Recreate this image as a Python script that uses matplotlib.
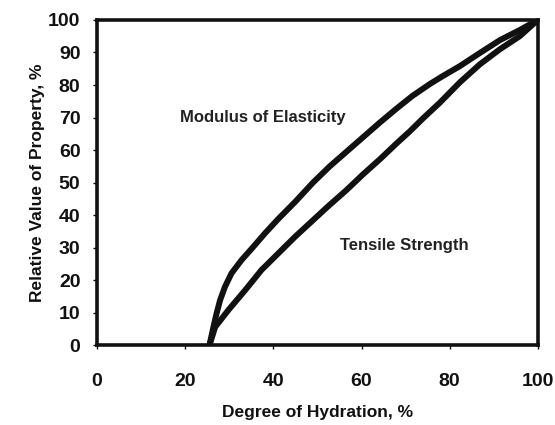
import matplotlib.pyplot as plt

# values
hydration_modulus = [25.5, 26.4, 27.1, 27.9, 29.0, 30.5, 32.8, 35.1, 38.1, 41.1, 44.9, 49.0, 52.8,
                     56.6, 60.4, 64.2, 68.0, 71.5, 75.5, 78.5, 82.3, 86.8, 91.4, 95.9, 100.0]
modulus = [0.0, 5.6, 9.7, 13.8, 17.9, 22.1, 26.2, 29.7, 34.4, 38.8, 44.0, 50.0, 55.0,
           59.5, 64.0, 68.5, 72.8, 76.6, 80.3, 82.8, 85.8, 89.8, 93.8, 96.9, 100.0]

hydration_tensile = [25.5, 26.8, 29.8, 33.6, 37.3, 41.1, 44.9, 48.5, 52.5, 56.6, 60.4,
                     64.2, 68.0, 71.0, 74.0, 77.8, 82.3, 86.8, 91.4, 95.9, 100.0]
tensile = [0.0, 5.6, 10.8, 16.9, 23.1, 28.2, 33.3, 37.8, 42.8, 47.7, 52.6,
           57.2, 62.1, 65.8, 69.8, 74.6, 80.8, 86.3, 91.0, 95.0, 100.0]

x_ticks = [0, 20, 40, 60, 80, 100]
y_ticks = list(range(0, 101, 10))

plt.rcParams["font.family"] = ["Liberation Sans", "DejaVu Sans"]
plt.rcParams["font.weight"] = "bold"

fig = plt.figure(figsize=(5.55, 4.25), dpi=100)
ax = fig.add_axes([0.175, 0.188, 0.794, 0.765])

line_style = dict(color="#111111", lw=4.3, solid_capstyle="round", solid_joinstyle="round")
ax.plot(hydration_modulus, modulus, **line_style)
ax.plot(hydration_tensile, tensile, **line_style)

ax.text(37.5, 70, "Modulus of Elasticity", ha="center", va="center", fontsize=12, fontweight="bold", color="#222222")
ax.text(69.8, 30.5, "Tensile Strength", ha="center", va="center", fontsize=12, fontweight="bold", color="#222222")

ax.set_xlim(0, 100)
ax.set_ylim(0, 100)
ax.set_xticks(x_ticks)
ax.set_yticks(y_ticks)
for s in ax.spines.values():
    s.set_linewidth(2.6)
    s.set_color("#111111")
ax.tick_params(axis="x", length=3, width=1, direction="out", pad=17, labelsize=14, colors="#111111")
ax.tick_params(axis="y", length=3, width=1, direction="out", pad=9, labelsize=14, colors="#111111")
for lbl in ax.get_xticklabels() + ax.get_yticklabels():
    lbl.set_fontweight("bold")

ax.set_xlabel("Degree of Hydration, %", fontsize=12.5, fontweight="bold", labelpad=11, color="#111111")
ax.set_ylabel("Relative Value of Property, %", fontsize=12.5, fontweight="bold", labelpad=2, color="#111111")

fig.savefig("out.png", dpi=100, facecolor="white")
